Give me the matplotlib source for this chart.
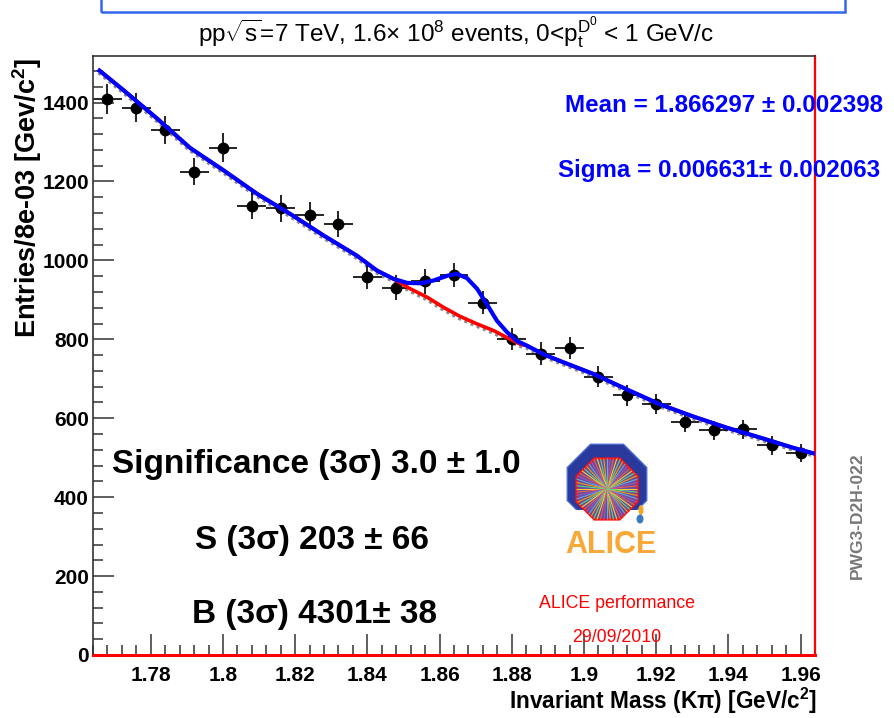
import numpy as np
import matplotlib
matplotlib.use("Agg")
import matplotlib.pyplot as plt
from matplotlib import font_manager, patches, transforms
from matplotlib.ticker import MultipleLocator

# fontlar
fams = {f.name for f in font_manager.fontManager.ttflist}
narrow = "Liberation Sans Narrow" in fams
FONT = "Liberation Sans Narrow" if narrow else "Liberation Sans"
k = 1.0 / 0.85 if narrow else 1.0   # narrow font biraz buyutulur
plt.rcParams["font.family"] = [FONT, "DejaVu Sans"]
plt.rcParams["mathtext.fontset"] = "custom"
plt.rcParams["mathtext.rm"] = FONT
plt.rcParams["mathtext.it"] = FONT + ":italic"
plt.rcParams["mathtext.bf"] = FONT + ":bold"

# veri: D0 -> K pi invariant mass histogrami (bin = 8e-3)
bin_center = [1.768, 1.776, 1.784, 1.792, 1.800, 1.808, 1.816, 1.824, 1.832,
              1.840, 1.848, 1.856, 1.864, 1.872, 1.880, 1.888, 1.896, 1.904,
              1.912, 1.920, 1.928, 1.936, 1.944, 1.952, 1.960]
entries = [1409, 1387, 1330, 1225, 1286, 1139, 1132, 1116, 1092, 959, 931, 947,
           963, 893, 800, 764, 778, 705, 658, 637, 590, 569, 572, 531, 511]
entries_err = [38, 37, 36, 35, 36, 34, 34, 33, 33, 31, 31, 31, 31, 30, 28, 28,
               28, 27, 26, 25, 24, 24, 24, 23, 23]
bin_half = 0.004

# toplam fit (mavi)
fit_x = [1.7658, 1.7725, 1.7817, 1.7909, 1.8002, 1.8094, 1.8186, 1.8279, 1.8371,
         1.8427, 1.8473, 1.8510, 1.8547, 1.8583, 1.8621, 1.8648, 1.8676, 1.8704,
         1.8731, 1.8759, 1.8787, 1.8814, 1.8842, 1.8888, 1.8934, 1.9027, 1.9119,
         1.9211, 1.9304, 1.9396, 1.9488, 1.9580, 1.9636]
fit_y = [1481, 1431, 1360, 1285, 1228, 1169, 1118, 1063, 1012,
         974, 953, 943, 942, 949, 961, 966, 955, 928,
         889, 847, 818, 796, 784, 762, 745, 712, 673,
         635, 604, 576, 551, 525, 511]

# arka plan fit (kirmizi / gri)
bkg_x = [1.7658, 1.7725, 1.7817, 1.7909, 1.8002, 1.8094, 1.8186, 1.8279, 1.8371,
         1.8427, 1.8473, 1.8519, 1.8565, 1.8611, 1.8657, 1.8704, 1.8750, 1.8796,
         1.8823, 1.8842, 1.8888, 1.8934, 1.9027, 1.9119, 1.9211, 1.9304, 1.9396,
         1.9488, 1.9580, 1.9636]
bkg_y = [1481, 1431, 1360, 1285, 1228, 1169, 1118, 1063, 1012,
         974, 953, 928, 907, 881, 858, 839, 822, 800,
         788, 784, 762, 745, 712, 673, 635, 604, 576,
         551, 525, 511]

W, H = 894, 718
fig = plt.figure(figsize=(W / 100, H / 100), dpi=100)
ax = fig.add_axes([93 / W, 1 - 655 / H, (815 - 93) / W, (655 - 56) / H])

# gri kesikli arka plan (biraz asagi kaydirilmis)
gray_tr = transforms.offset_copy(ax.transData, fig=fig, x=-0.8, y=-1.6, units="points")
ax.plot(bkg_x, bkg_y, color="#8a8a8a", lw=2.2, ls=(0, (1, 1.2)), transform=gray_tr, zorder=2)
ax.errorbar(bin_center, entries, yerr=entries_err, xerr=bin_half, fmt="o", color="black",
            ms=7.5, elinewidth=1.2, capsize=0, zorder=2.2)
ax.plot(bkg_x, bkg_y, color="#ff0000", lw=2.6, zorder=3)
ax.plot(fit_x, fit_y, color="#0000ff", lw=3.0, zorder=4)

ax.set_xlim(1.764, 1.964)
ax.set_ylim(0, 1518)
ax.xaxis.set_major_locator(MultipleLocator(0.02))
ax.xaxis.set_minor_locator(MultipleLocator(0.004))
ax.yaxis.set_major_locator(MultipleLocator(200))
ax.yaxis.set_minor_locator(MultipleLocator(40))
ax.tick_params(which="both", direction="in", top=False, right=False, color="#333333", width=1.1)
ax.tick_params(which="major", length=15)
ax.tick_params(which="minor", length=7.5)
ax.tick_params(axis="x", labelsize=15 * k, pad=8)
ax.tick_params(axis="y", labelsize=15 * k, pad=3)
ax.set_xticks([1.78, 1.80, 1.82, 1.84, 1.86, 1.88, 1.90, 1.92, 1.94, 1.96])
ax.set_xticklabels(["1.78", "1.8", "1.82", "1.84", "1.86", "1.88", "1.9", "1.92", "1.94", "1.96"])
for lab in ax.get_xticklabels() + ax.get_yticklabels():
    lab.set_fontweight("bold")

for s in ["left", "top"]:
    ax.spines[s].set_color("#333333")
    ax.spines[s].set_linewidth(1.2)
ax.spines["right"].set_color("#ff0000")
ax.spines["right"].set_linewidth(1.6)
ax.spines["bottom"].set_color("#ff0000")
ax.spines["bottom"].set_linewidth(2.2)

# eksen basliklari
fig.text(817 / W, 1 - 701 / H, r"Invariant Mass (K$\mathbf{\pi}$) [GeV/c$^{\mathbf{2}}$]",
         ha="right", va="center", fontsize=16.3 * k, fontweight="bold")
fig.text(27 / W, 1 - 58 / H, r"Entries/8e-03 [Gev/c$^{\mathbf{2}}$]", rotation=90,
         ha="center", va="top", fontsize=19.5 * k, fontweight="bold")

# baslik
fig.text(456 / W, 1 - 33 / H,
         r"pp$\sqrt{\mathrm{s}}$=7 TeV, 1.6$\times$ 10$^{8}$ events, 0<p$_{\mathrm{t}}^{\mathrm{D}^{0}}$ < 1 GeV/c",
         ha="center", va="center", fontsize=17.5 * k)

# ust kisimdaki mavi kutu
fig.patches.append(patches.Rectangle((101 / W, 1 - 12 / H), (845 - 101) / W, 0.05,
                                     transform=fig.transFigure, fill=False,
                                     edgecolor="#3366ee", lw=1.8))

# fit parametreleri
fig.text(565 / W, 1 - 106 / H, "Mean = 1.866297 \u00b1 0.002398", color="#0000ff",
         ha="left", va="center", fontsize=17.4 * k, fontweight="bold")
fig.text(558 / W, 1 - 170 / H, "Sigma = 0.006631\u00b1 0.002063", color="#0000ff",
         ha="left", va="center", fontsize=17.4 * k, fontweight="bold")

# anlamlilik
fig.text(112 / W, 1 - 465 / H, "Significance (3\u03c3) 3.0 \u00b1 1.0",
         ha="left", va="center", fontsize=24 * k, fontweight="bold")
fig.text(195 / W, 1 - 541 / H, "S (3\u03c3) 203 \u00b1 66",
         ha="left", va="center", fontsize=24 * k, fontweight="bold")
fig.text(192 / W, 1 - 614 / H, "B (3\u03c3) 4301\u00b1 38",
         ha="left", va="center", fontsize=24 * k, fontweight="bold")

fig.text(617 / W, 1 - 604 / H, "ALICE performance", color="#ff0000",
         ha="center", va="center", fontsize=12.8 * k)
fig.text(617 / W, 1 - 637 / H, "29/09/2010", color="#ff0000",
         ha="center", va="center", fontsize=12.8 * k)
fig.text(857 / W, 1 - 516 / H, "PWG3-D2H-022", color="#777777", rotation=90,
         ha="center", va="center", fontsize=12.5 * k, fontweight="bold")

# ALICE logosu (kaba taklit)
lx0, ly0, lw_, lh_ = 555, 440, 110, 125
lax = fig.add_axes([lx0 / W, 1 - (ly0 + lh_) / H, lw_ / W, lh_ / H])
lax.set_xlim(0, lw_)
lax.set_ylim(0, lh_)
lax.axis("off")
cx, cy = 607 - lx0, lh_ - (486 - ly0)
outer = patches.RegularPolygon((cx, cy + 2), 8, radius=43, orientation=np.pi / 8,
                               facecolor="#2a3a9c", edgecolor="#4a6ad0", lw=1)
lax.add_patch(outer)
lax.add_patch(patches.Rectangle((cx - 46, cy - 46), 92, 22, facecolor="white", edgecolor="none"))
inner = patches.RegularPolygon((cx, cy - 3), 8, radius=33, orientation=np.pi / 8,
                               facecolor="#6a4a9a", edgecolor="#ff1010", lw=1.6)
lax.add_patch(inner)
ray_colors = ["#f4d03f", "#e8604c", "#9b59b6", "#5dade2", "#f39c12", "#58d68d"]
for i, a in enumerate(np.linspace(0, 2 * np.pi, 60, endpoint=False)):
    ln, = lax.plot([cx, cx + 40 * np.cos(a)], [cy - 3, cy - 3 + 40 * np.sin(a)],
                   color=ray_colors[i % len(ray_colors)], lw=0.8)
    ln.set_clip_path(inner)
lax.add_patch(patches.Circle((cx, cy - 3), 7, facecolor="#f7b733", edgecolor="none", alpha=0.9))
lax.add_patch(patches.Ellipse((cx + 34, cy - 24), 5, 10, facecolor="#f5a623", edgecolor="none"))
lax.add_patch(patches.Ellipse((cx + 33, cy - 33), 7, 9, facecolor="#3a78c2", edgecolor="none"))
lax.text(611 - lx0, lh_ - (545 - ly0), "ALICE", color="#f9a838", ha="center", va="center",
         fontsize=22 * k, fontweight="bold")

fig.savefig("out.png", dpi=100)
